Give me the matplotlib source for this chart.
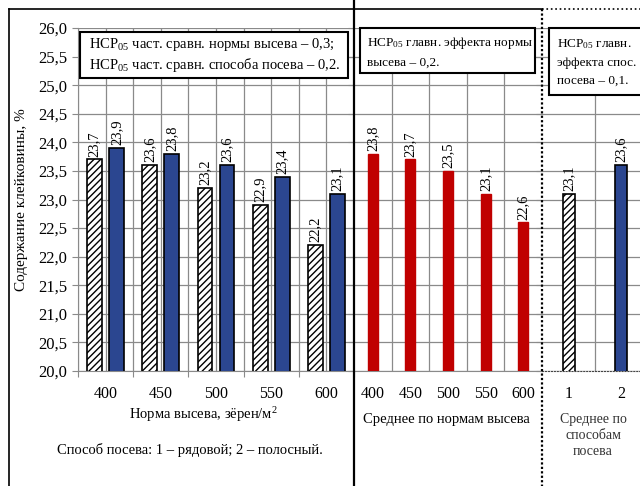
import matplotlib
matplotlib.use("Agg")
import matplotlib.pyplot as plt
from matplotlib.lines import Line2D
from matplotlib.patches import Rectangle
import numpy as np

plt.rcParams['font.family'] = ['Liberation Serif', 'DejaVu Serif']
plt.rcParams['mathtext.fontset'] = 'custom'
plt.rcParams['mathtext.rm'] = 'Liberation Serif'
plt.rcParams['mathtext.it'] = 'Liberation Serif:italic'

# Data
rates = ['400', '450', '500', '550', '600']
row_sowing = [23.7, 23.6, 23.2, 22.9, 22.2]
strip_sowing = [23.9, 23.8, 23.6, 23.4, 23.1]
mean_by_rate = [23.8, 23.7, 23.5, 23.1, 22.6]
methods = ['1', '2']
mean_by_method = [23.1, 23.6]
yticks = np.arange(20.0, 26.01, 0.5)

W, H = 640, 486
fig = plt.figure(figsize=(6.4, 4.86), dpi=100)
fig.patch.set_facecolor('white')

def fx(px):
    return px / W

def fy(py):
    return 1 - py / H

ybot, ytop = 371, 28
grid_c = '#8a8a8a'
blue = '#2B4690'
red = '#C00000'
fs = 10.5

def ax_at(x0, x1):
    ax = fig.add_axes([fx(x0), fy(ybot), fx(x1) - fx(x0), fy(ytop) - fy(ybot)])
    ax.set_ylim(20, 26)
    ax.set_yticks(yticks)
    for s in ['top', 'right']:
        ax.spines[s].set_visible(False)
    for s in ['left', 'bottom']:
        ax.spines[s].set_color(grid_c)
    for y in yticks:
        ax.axhline(y, color=grid_c, lw=0.9, zorder=0)
    ax.tick_params(axis='both', colors=grid_c, labelcolor='black', labelsize=11.5, length=4)
    ax.tick_params(axis='y', labelsize=12)
    return ax

def fmt(v):
    return f"{v:.1f}".replace('.', ',')

def labels(ax, xs, vals):
    for x, v in zip(xs, vals):
        ax.text(x, v + 0.05, fmt(v), rotation=90, ha='center', va='bottom', fontsize=fs)

# Panel 1
ax1 = ax_at(78, 354)
ax1.set_xlim(-0.5, 4.5)
x = np.arange(len(rates))
for xv in np.arange(-0.5, 5, 1):
    ax1.axvline(xv, color=grid_c, lw=0.9, zorder=0)
for xv in x:
    ax1.axvline(xv, color=grid_c, lw=0.9, zorder=0)
ax1.bar(x - 0.2, row_sowing, 0.27, facecolor='white', edgecolor='black', hatch='/////', lw=1.2, zorder=3)
ax1.bar(x + 0.2, strip_sowing, 0.27, facecolor=blue, edgecolor='black', lw=1.2, zorder=3)
labels(ax1, x - 0.2, row_sowing)
labels(ax1, x + 0.2, strip_sowing)
ax1.set_xticks(np.arange(-0.5, 5, 1), minor=False)
ax1.set_xticklabels([])
ax1.set_xticks(x, minor=True)
ax1.set_xticklabels(rates, minor=True)
ax1.tick_params(axis='x', which='minor', length=0, pad=11, labelsize=11.5)
ax1.set_yticklabels([fmt(v) for v in yticks])
ax1.set_ylim(20, 26)

# Panel 2
ax2 = ax_at(354, 542)
ax2.set_xlim(-0.5, 4.5)
for xv in np.arange(0.5, 4.5, 1):
    ax2.axvline(xv, color=grid_c, lw=0.9, zorder=0)
ax2.bar(x, mean_by_rate, 0.27, facecolor=red, edgecolor=red, zorder=3)
labels(ax2, x, mean_by_rate)
ax2.set_xticks(x)
ax2.set_xticklabels(rates)
ax2.tick_params(axis='x', length=0, pad=11)
ax2.set_yticklabels([])
ax2.spines['left'].set_visible(False)
ax2.set_ylim(20, 26)

# Panel 3
ax3 = ax_at(542, 650)
xm = np.array([1, 2])
ax3.set_xlim(0.48, 2.56)
ax3.axvline(1.5, color=grid_c, lw=0.9, zorder=0)
ax3.bar(xm[0], mean_by_method[0], 0.23, facecolor='white', edgecolor='black', hatch='/////', lw=1.2, zorder=3)
ax3.bar(xm[1], mean_by_method[1], 0.23, facecolor=blue, edgecolor='black', lw=1.2, zorder=3)
labels(ax3, xm, mean_by_method)
ax3.set_xticks(xm)
ax3.set_xticklabels(methods)
ax3.tick_params(axis='x', length=0, pad=11)
ax3.set_yticklabels([])
ax3.spines['left'].set_visible(False)
ax3.spines['bottom'].set_linestyle(':')
ax3.spines['bottom'].set_color('#444444')
ax3.set_ylim(20, 26)

# Axis labels and notes
fig.text(fx(22), fy(200), 'Содержание клейковины, %', rotation=90, ha='center', va='center', fontsize=11)
fig.text(fx(203), fy(415), 'Норма высева, зёрен/м$^{2}$', ha='center', va='center', fontsize=fs)
fig.text(fx(190), fy(450), 'Способ посева: 1 – рядовой; 2 – полосный.', ha='center', va='center', fontsize=fs)
fig.text(fx(446), fy(419), 'Среднее по нормам высева', ha='center', va='center', fontsize=fs)
fig.text(fx(593), fy(435), 'Среднее по\nспособам\nпосева', ha='center', va='center', fontsize=10,
         color='#333333', linespacing=1.3)

# Boxes
def box(x0, y0, x1, y1):
    fig.add_artist(Rectangle((fx(x0), fy(y1)), fx(x1) - fx(x0), fy(y0) - fy(y1),
                             transform=fig.transFigure, facecolor='white', edgecolor='black',
                             lw=1.5, zorder=9))

box(80, 32, 348, 78)
fig.text(fx(89), fy(55), 'НСР$_{05}$ част. сравн. нормы высева – 0,3;\nНСР$_{05}$ част. сравн. способа посева – 0,2.',
         ha='left', va='center', fontsize=fs, linespacing=1.3, zorder=10)
box(360, 28, 535, 73)
fig.text(fx(367), fy(52), 'НСР$_{05}$ главн. эффекта нормы\nвысева – 0,2.',
         ha='left', va='center', fontsize=9.5, linespacing=1.6, zorder=10)
box(549, 28, 665, 95)
fig.text(fx(557), fy(62), 'НСР$_{05}$ главн.\nэффекта спос.\nпосева – 0,1.',
         ha='left', va='center', fontsize=9.5, linespacing=1.65, zorder=10)

# Frame lines
fig.add_artist(Line2D([fx(9), fx(542)], [fy(9), fy(9)], color='black', lw=1.2))
fig.add_artist(Line2D([fx(542), fx(640)], [fy(9), fy(9)], color='black', lw=1.2, ls=':'))
fig.add_artist(Line2D([fx(9), fx(9)], [fy(9), fy(486)], color='black', lw=1.2))
fig.add_artist(Line2D([fx(354), fx(354)], [fy(0), fy(486)], color='black', lw=1.6))
fig.add_artist(Line2D([fx(542), fx(542)], [fy(9), fy(486)], color='black', lw=1.6, ls=(0, (1, 1))))

fig.savefig('out.png', dpi=100, facecolor='white')
